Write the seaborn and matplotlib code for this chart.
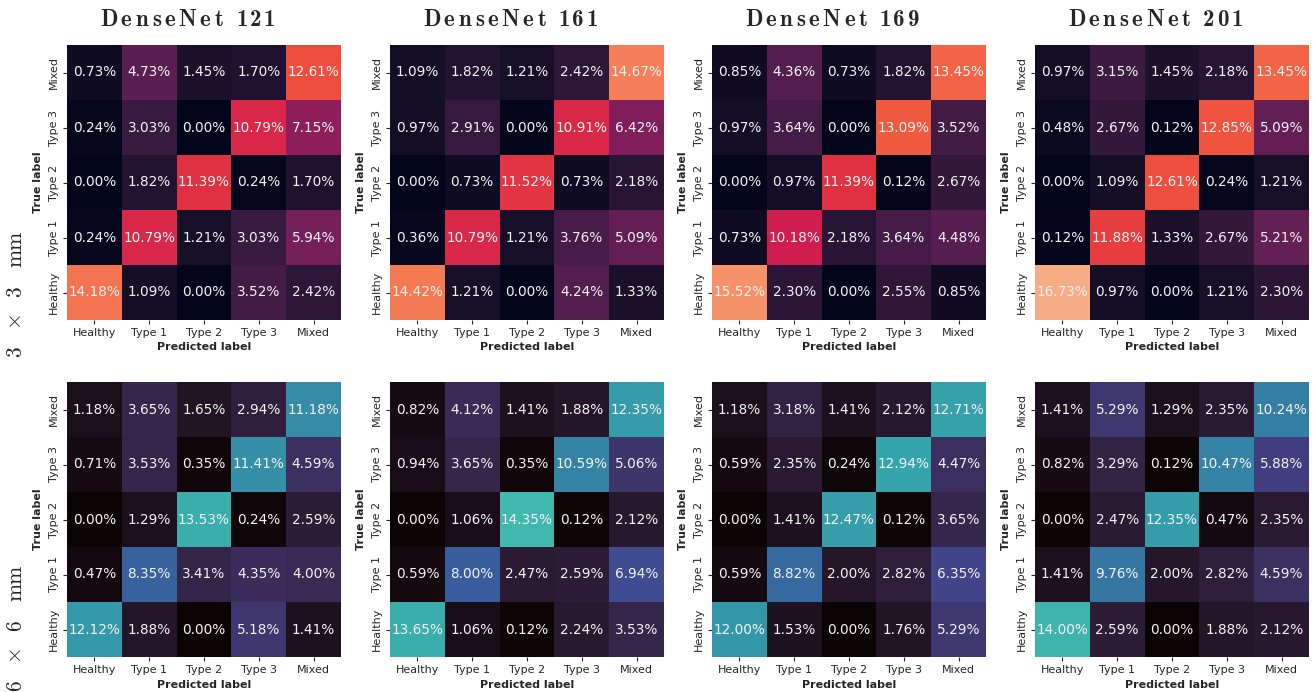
import os
import numpy as np
import pandas as pd
import matplotlib
matplotlib.use("Agg")
import matplotlib.pyplot as plt
from matplotlib.font_manager import FontProperties
from matplotlib.textpath import TextPath
import seaborn as sns

sns.set_style("white")
plt.rcParams["mathtext.fontset"] = "cm"
plt.rcParams["font.family"] = ["DejaVu Sans"]

ttf_dir = os.path.join(matplotlib.get_data_path(), "fonts", "ttf")
cm_bold = FontProperties(fname=os.path.join(ttf_dir, "cmb10.ttf"), size=16.5)
cm_roman = FontProperties(fname=os.path.join(ttf_dir, "cmr10.ttf"), size=15.5)

classes = ["Healthy", "Type 1", "Type 2", "Type 3", "Mixed"]
models = ["DenseNet 121", "DenseNet 161", "DenseNet 169", "DenseNet 201"]
resolutions = ["3", "6"]

# Confusion matrices in percent of all samples; rows = true class, cols = predicted class
# (row order: Healthy, Type 1, Type 2, Type 3, Mixed)
dn121_3mm = [[14.18, 1.09, 0.00, 3.52, 2.42],
             [0.24, 10.79, 1.21, 3.03, 5.94],
             [0.00, 1.82, 11.39, 0.24, 1.70],
             [0.24, 3.03, 0.00, 10.79, 7.15],
             [0.73, 4.73, 1.45, 1.70, 12.61]]
dn161_3mm = [[14.42, 1.21, 0.00, 4.24, 1.33],
             [0.36, 10.79, 1.21, 3.76, 5.09],
             [0.00, 0.73, 11.52, 0.73, 2.18],
             [0.97, 2.91, 0.00, 10.91, 6.42],
             [1.09, 1.82, 1.21, 2.42, 14.67]]
dn169_3mm = [[15.52, 2.30, 0.00, 2.55, 0.85],
             [0.73, 10.18, 2.18, 3.64, 4.48],
             [0.00, 0.97, 11.39, 0.12, 2.67],
             [0.97, 3.64, 0.00, 13.09, 3.52],
             [0.85, 4.36, 0.73, 1.82, 13.45]]
dn201_3mm = [[16.73, 0.97, 0.00, 1.21, 2.30],
             [0.12, 11.88, 1.33, 2.67, 5.21],
             [0.00, 1.09, 12.61, 0.24, 1.21],
             [0.48, 2.67, 0.12, 12.85, 5.09],
             [0.97, 3.15, 1.45, 2.18, 13.45]]

dn121_6mm = [[12.12, 1.88, 0.00, 5.18, 1.41],
             [0.47, 8.35, 3.41, 4.35, 4.00],
             [0.00, 1.29, 13.53, 0.24, 2.59],
             [0.71, 3.53, 0.35, 11.41, 4.59],
             [1.18, 3.65, 1.65, 2.94, 11.18]]
dn161_6mm = [[13.65, 1.06, 0.12, 2.24, 3.53],
             [0.59, 8.00, 2.47, 2.59, 6.94],
             [0.00, 1.06, 14.35, 0.12, 2.12],
             [0.94, 3.65, 0.35, 10.59, 5.06],
             [0.82, 4.12, 1.41, 1.88, 12.35]]
dn169_6mm = [[12.00, 1.53, 0.00, 1.76, 5.29],
             [0.59, 8.82, 2.00, 2.82, 6.35],
             [0.00, 1.41, 12.47, 0.12, 3.65],
             [0.59, 2.35, 0.24, 12.94, 4.47],
             [1.18, 3.18, 1.41, 2.12, 12.71]]
dn201_6mm = [[14.00, 2.59, 0.00, 1.88, 2.12],
             [1.41, 9.76, 2.00, 2.82, 4.59],
             [0.00, 2.47, 12.35, 0.47, 2.35],
             [0.82, 3.29, 0.12, 10.47, 5.88],
             [1.41, 5.29, 1.29, 2.35, 10.24]]

grid = [[dn121_3mm, dn161_3mm, dn169_3mm, dn201_3mm],
        [dn121_6mm, dn161_6mm, dn169_6mm, dn201_6mm]]
cmaps = ["rocket", "mako"]

W, H = 1313, 692
DPI = 100
fig = plt.figure(figsize=(W / DPI, H / DPI), dpi=DPI)


def piece_width(s, fp):
    """Ink width and left bearing of a string, in pixels."""
    ext = TextPath((0, 0), s, prop=fp).get_extents()
    return ext.width * DPI / 72.0, ext.x0 * DPI / 72.0


def spaced_text(pieces, fp, start, baseline, total, space_px, vertical=False):
    """Draw a string piece by piece with even letter spacing so it fills `total` px."""
    info = [(0.0, 0.0) if p == " " else piece_width(p, fp) for p in pieces]
    widths = [w for w, _ in info]
    n_gaps = len(pieces) - 1
    n_space = pieces.count(" ")
    gap = (total - sum(widths) - n_space * space_px) / n_gaps
    pos = start
    for p, (w, x0) in zip(pieces, info):
        if p == " ":
            pos += (space_px + gap) * (-1 if vertical else 1)
            continue
        if vertical:
            fig.text(baseline / W, 1 - (pos + x0) / H, p, fontproperties=fp, rotation=90,
                     rotation_mode="anchor", ha="left", va="baseline")
            pos -= w + gap
        else:
            fig.text((pos - x0) / W, 1 - baseline / H, p, fontproperties=fp,
                     ha="left", va="baseline")
            pos += w + gap
    return pos


lefts = [67, 390, 712, 1035]
tops = [45, 382]
aw, ah = 274, 275

for r in range(2):
    for c in range(4):
        x0, y0 = lefts[c], tops[r]
        ax = fig.add_axes([x0 / W, 1 - (y0 + ah) / H, aw / W, ah / H])
        df = pd.DataFrame(grid[r][c], index=classes, columns=classes)
        labels = df.map(lambda v: f"{v:.2f}%")
        sns.heatmap(df, ax=ax, cmap=cmaps[r], vmin=0, vmax=20, cbar=False,
                    annot=labels, fmt="", square=False,
                    annot_kws={"size": 9.8, "color": "#f2f2f2"})
        ax.invert_yaxis()
        ax.set_xlabel("Predicted label", fontsize=8, fontweight="bold", labelpad=3)
        ax.set_ylabel("True label", fontsize=8, fontweight="bold", labelpad=4)
        ax.tick_params(axis="both", labelsize=8, length=3, width=0.8, pad=3, left=True, bottom=True)
        ax.set_yticklabels(classes, rotation=90, va="center")
        ax.set_xticklabels(classes, rotation=0)

# Column titles
title_w = 172
for c in range(4):
    cx = lefts[c] + aw / 2 - 17
    spaced_text(list(models[c]), cm_bold, cx - title_w / 2, 26, title_w, 6)

# Row labels (read bottom to top)
row_bottoms = [356, 690]
for r in range(2):
    d = resolutions[r]
    spaced_text([d, " ", r"$\times$", " ", d, " ", "mm"], cm_roman,
                row_bottoms[r], 21, 124, 4, vertical=True)

fig.savefig("out.png", dpi=DPI)
